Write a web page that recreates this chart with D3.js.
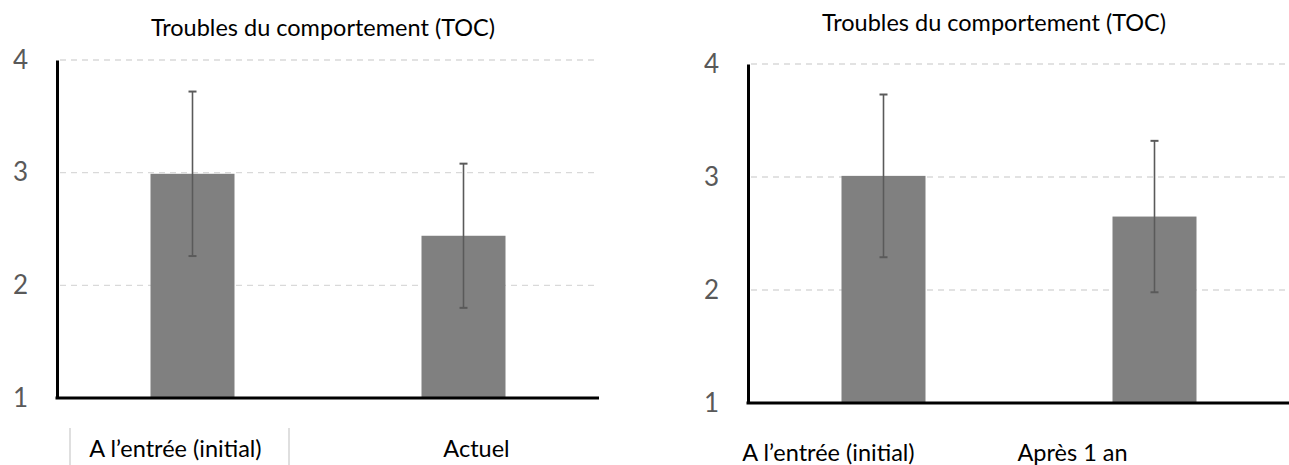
<!DOCTYPE html>
<html>
<head>
<meta charset="utf-8">
<script src="https://cdn.jsdelivr.net/npm/d3@7"></script>
<style>
  html, body { margin: 0; padding: 0; background: #ffffff; }
  svg { display: block; }
  text { font-family: Lato, "Noto Sans", sans-serif; }
</style>
</head>
<body>
<svg id="chart" width="1289" height="465"></svg>
<script>
// Mean TOC scores with error bars, two comparisons side by side
const title = "Troubles du comportement (TOC)";
const yTicks = [1, 2, 3, 4];

const categoriesA = ["A l\u2019entrée (initial)", "Actuel"];
const meansA = [2.99, 2.44];
const errorsA = [0.73, 0.64];

const categoriesB = ["A l\u2019entrée (initial)", "Après 1 an"];
const meansB = [3.01, 2.65];
const errorsB = [0.72, 0.67];

const svg = d3.select("#chart");

function drawPanel(cfg) {
  const g = svg.append("g");
  const data = cfg.categories.map((c, i) => ({ c, v: cfg.means[i], e: cfg.errors[i] }));

  const x = d3.scaleBand().domain(cfg.categories).range(cfg.xRange).paddingInner(0.69).paddingOuter(0.345);
  const y = d3.scaleLinear().domain([1, 4]).range(cfg.yRange);

  // dashed horizontal gridlines
  g.selectAll("line.grid")
    .data(yTicks.filter(t => t > 1))
    .join("line")
    .attr("class", "grid")
    .attr("x1", cfg.xRange[0] + 3).attr("x2", cfg.xRange[1])
    .attr("y1", d => y(d)).attr("y2", d => y(d))
    .attr("stroke", "#d9d9d9").attr("stroke-width", 1.3)
    .attr("stroke-dasharray", "6,5");

  // bars
  g.selectAll("rect.bar")
    .data(data)
    .join("rect")
    .attr("class", "bar")
    .attr("x", d => x(d.c))
    .attr("width", x.bandwidth())
    .attr("y", d => y(d.v))
    .attr("height", d => y(1) - y(d.v))
    .attr("fill", "#808080");

  // error bars
  const eb = g.selectAll("g.err").data(data).join("g").attr("class", "err")
    .attr("stroke", "#5a5a5a").attr("stroke-width", 1.6);
  eb.append("line")
    .attr("x1", d => x(d.c) + x.bandwidth() / 2).attr("x2", d => x(d.c) + x.bandwidth() / 2)
    .attr("y1", d => y(d.v + d.e)).attr("y2", d => y(d.v - d.e));
  eb.append("line")
    .attr("x1", d => x(d.c) + x.bandwidth() / 2 - 4).attr("x2", d => x(d.c) + x.bandwidth() / 2 + 4)
    .attr("y1", d => y(d.v + d.e)).attr("y2", d => y(d.v + d.e))
    .attr("stroke-width", 2);
  eb.append("line")
    .attr("x1", d => x(d.c) + x.bandwidth() / 2 - 4).attr("x2", d => x(d.c) + x.bandwidth() / 2 + 4)
    .attr("y1", d => y(d.v - d.e)).attr("y2", d => y(d.v - d.e))
    .attr("stroke-width", 2);

  // y axis
  const ya = g.append("g")
    .attr("transform", `translate(${cfg.xRange[0]},0)`)
    .call(d3.axisLeft(y).tickValues(yTicks).tickSize(0).tickSizeOuter(0).tickPadding(29).tickFormat(d3.format("d")));
  ya.select(".domain").attr("stroke", "#000").attr("stroke-width", 3);
  ya.selectAll("text")
    .attr("font-family", "Lato, 'Noto Sans', sans-serif")
    .attr("font-size", 26).attr("fill", "#595959");

  // x axis baseline
  const xa = g.append("g")
    .attr("transform", `translate(0,${y(1)})`)
    .call(d3.axisBottom(x).tickSize(0).tickSizeOuter(0).tickFormat(""));
  xa.select(".domain").attr("stroke", "#000").attr("stroke-width", 3)
    .attr("d", `M${cfg.xRange[0] - 1.5},0H${cfg.xRange[1]}`);

  // category labels
  g.selectAll("text.cat")
    .data(data)
    .join("text")
    .attr("class", "cat")
    .attr("x", (d, i) => x(d.c) + x.bandwidth() / 2 + cfg.labelShift[i])
    .attr("y", cfg.labelY)
    .attr("text-anchor", "middle")
    .attr("font-size", 23.5)
    .attr("fill", "#000")
    .text(d => d.c);

  // title
  g.append("text")
    .attr("x", cfg.titleX).attr("y", cfg.titleY)
    .attr("text-anchor", "middle")
    .attr("font-size", 23.5)
    .attr("fill", "#000")
    .text(title);

  return { g, x, y };
}

const left = drawPanel({
  categories: categoriesA, means: meansA, errors: errorsA,
  xRange: [57, 599], yRange: [398, 60],
  labelShift: [-17, 13], labelY: 457,
  titleX: 323, titleY: 36
});

// thin separators framing the first category label
left.g.selectAll("line.sep")
  .data([70, 289])
  .join("line")
  .attr("class", "sep")
  .attr("x1", d => d).attr("x2", d => d)
  .attr("y1", 428).attr("y2", 465)
  .attr("stroke", "#bfbfbf").attr("stroke-width", 1);

drawPanel({
  categories: categoriesB, means: meansB, errors: errorsB,
  xRange: [748, 1290], yRange: [403, 64],
  labelShift: [-55, -82], labelY: 461,
  titleX: 994, titleY: 31
});
</script>
</body>
</html>
